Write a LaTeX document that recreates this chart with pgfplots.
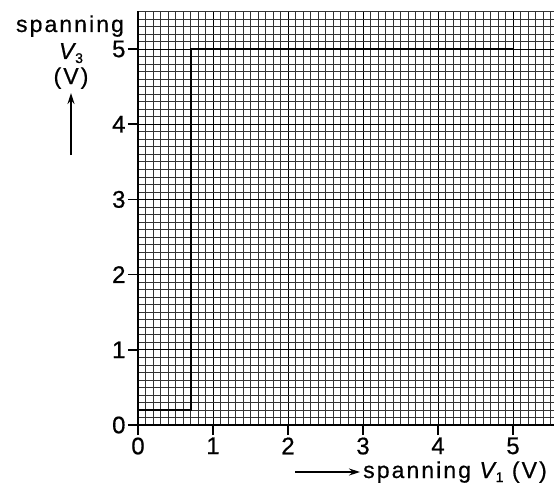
\documentclass[border=0pt]{standalone}
\usepackage{fontspec}
\setmainfont{Liberation Sans}[LetterSpace=9, FakeBold=0.6]
\usepackage{pgfplots}
\pgfplotsset{compat=1.18}
\usetikzlibrary{arrows.meta}
\begin{document}
\begin{tikzpicture}
\path[use as bounding box] (-138pt,-66pt) rectangle (418pt,425pt);
\begin{axis}[
  anchor=origin, at={(0pt,0pt)},
  x=75pt, y=75.2pt,
  xmin=0, xmax=5.55, ymin=0, ymax=5.5,
  axis lines*=left,
  axis line style={line width=2pt},
  xtick={0,1,2,3,4,5}, ytick={0,1,2,3,4,5},
  minor xtick={0,0.1,...,5.55}, minor ytick={0,0.1,...,5.55},
  grid=both,
  minor grid style={black!80, line width=0.65pt},
  major grid style={black, line width=0.85pt},
  tick style={black, line width=1.6pt},
  tick align=outside, major tick length=10pt, minor tick length=0pt,
  /pgf/number format/assume math mode=true,
  ticklabel style={font=\fontsize{24}{26}\selectfont},
  xticklabel style={yshift=1pt},
  yticklabel style={xshift=1pt},
  clip=false,
]
\addplot[black, line width=2pt] coordinates {(0,0.2) (0.7,0.2) (0.7,5) (5,5)};
\end{axis}
\node[font=\fontsize{23}{24}\selectfont, anchor=base] at (-68pt,393pt) {spanning};
\node[font=\fontsize{23}{24}\selectfont, anchor=base, inner sep=1pt] at (-67pt,366pt) {\textit{V}\kern-3pt\raisebox{-4pt}{\fontsize{14}{14}\selectfont 3}};
\node[font=\fontsize{23}{24}\selectfont, anchor=base, inner sep=1pt] at (-67pt,341pt) {(V)};
\draw[line width=1.4pt, -{Stealth[length=11pt,width=7pt]}] (-67pt,270pt) -- (-67pt,332pt);
\draw[line width=1.4pt, -{Stealth[length=11pt,width=7pt]}] (157pt,-47pt) -- (222pt,-47pt);
\node[font=\fontsize{23}{24}\selectfont, anchor=base west, inner sep=0pt] at (225pt,-53pt) {spanning \textit{V}\kern-3pt\raisebox{-4pt}{\fontsize{14}{14}\selectfont 1} (V)};
\end{tikzpicture}
\end{document}
